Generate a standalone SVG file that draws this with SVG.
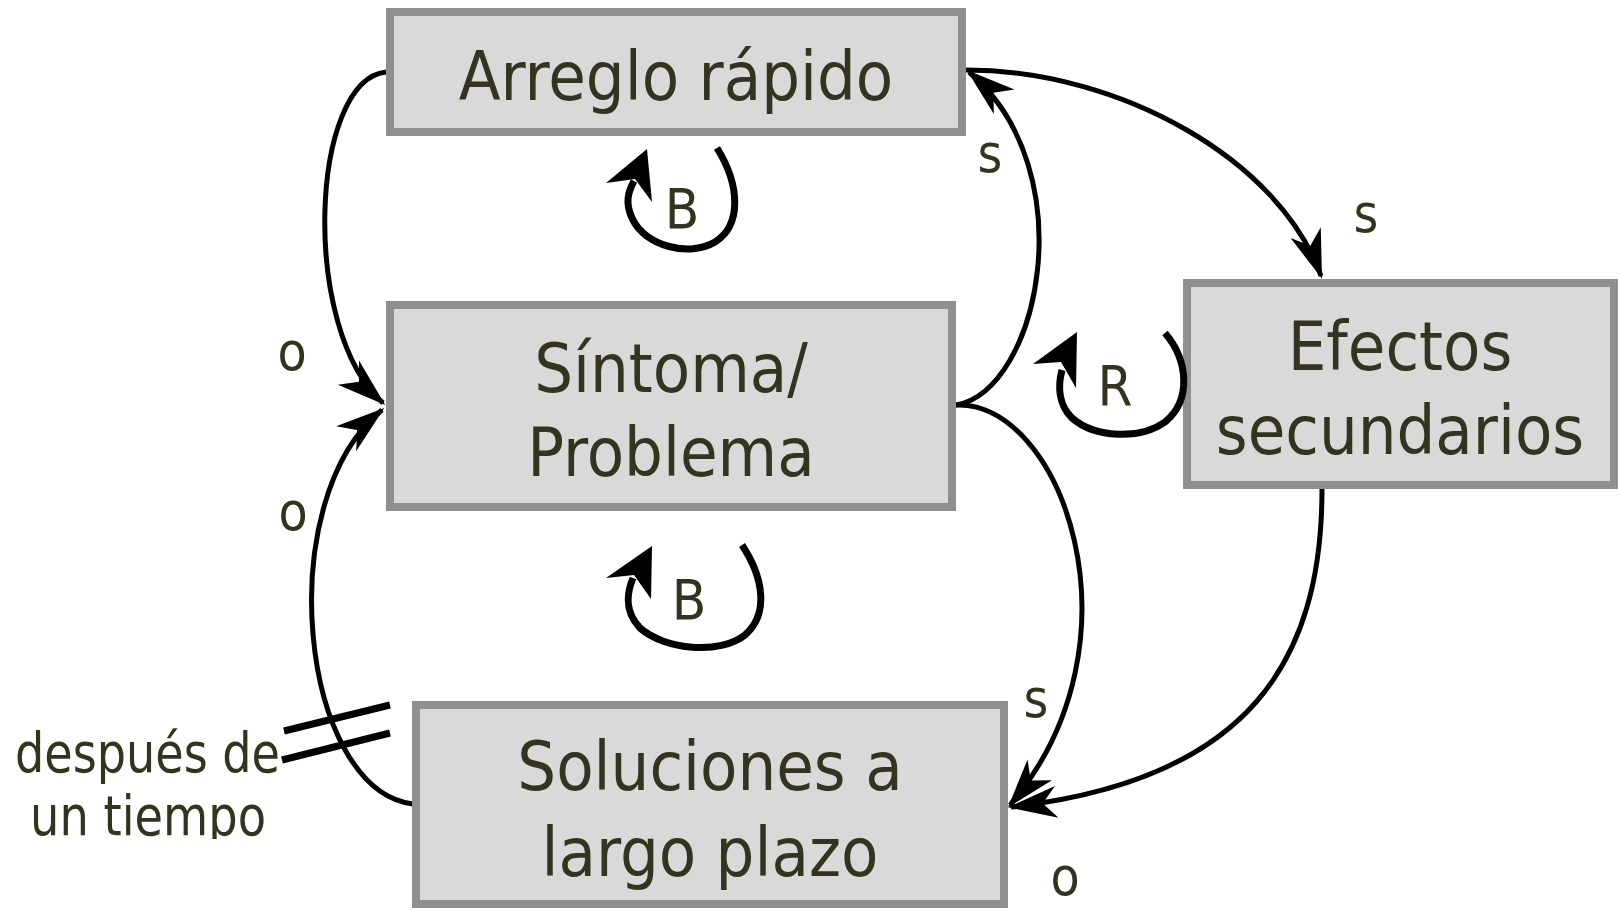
<svg xmlns="http://www.w3.org/2000/svg" width="1620" height="910" viewBox="0 0 1620 910">
  <style>
    .box { fill: #d9d9d9; stroke: #8f8f8f; stroke-width: 8; }
    .lbl { font-family: "DejaVu Sans Condensed", "DejaVu Sans", sans-serif; font-stretch: condensed; fill: #33331f; }
    .big { font-size: 68px; text-anchor: middle; }
    .sm { font-size: 53px; text-anchor: middle; }
    .loopl { font-size: 56px; text-anchor: middle; }
    .note { font-size: 55px; }
    .conn { fill: none; stroke: #000; stroke-width: 5; }
    .loop { fill: none; stroke: #000; stroke-width: 7; stroke-linecap: butt; }
    .hash { stroke: #000; stroke-width: 7; }
  </style>
  <defs>
    <marker id="ah" markerUnits="userSpaceOnUse" markerWidth="70" markerHeight="50" viewBox="-55 -25 70 50" refX="0" refY="0" orient="auto">
      <path d="M3,0 L-46,-16 L-32,0 L-46,16 Z" fill="#000"/>
    </marker>
    <clipPath id="clipNote">
      <rect x="0" y="600" width="420" height="239"/>
    </clipPath>
  </defs>
  <rect width="1620" height="910" fill="#fff"/>

  <g id="connectors">
    <!-- Arreglo -> Sintoma (o) -->
    <path class="conn" d="M386 72 C310 80, 300 330, 383 403" marker-end="url(#ah)"/>
    <!-- Soluciones -> Sintoma (o), with delay -->
    <path class="conn" d="M413 804 C300 790, 270 500, 382 410" marker-end="url(#ah)"/>
    <!-- Sintoma -> Arreglo (s) -->
    <path class="conn" d="M956 405 C1040 390, 1085 170, 969 72" marker-end="url(#ah)"/>
    <!-- Arreglo -> Efectos (s) -->
    <path class="conn" d="M966 70 C1120 70, 1280 160, 1321 276" marker-end="url(#ah)"/>
    <!-- Sintoma -> Soluciones (s) -->
    <path class="conn" d="M956 405 C1060 400, 1150 640, 1010 805" marker-end="url(#ah)"/>
    <!-- Efectos -> Soluciones (o) -->
    <path class="conn" d="M1322 489 C1322 660, 1250 780, 1011 807" marker-end="url(#ah)"/>
    <!-- delay marks -->
    <line class="hash" x1="284" y1="731" x2="390" y2="705"/>
    <line class="hash" x1="282" y1="760" x2="390" y2="733"/>
  </g>

  <g id="node-arreglo">
    <rect class="box" x="390" y="12" width="572" height="120"/>
    <text class="lbl big" x="676" y="100">Arreglo rápido</text>
  </g>
  <g id="node-sintoma">
    <rect class="box" x="390" y="305" width="562" height="202"/>
    <text class="lbl big" x="671" y="392">Síntoma/</text>
    <text class="lbl big" x="671" y="476">Problema</text>
  </g>
  <g id="node-soluciones">
    <rect class="box" x="416" y="705" width="588" height="199"/>
    <text class="lbl big" x="710" y="790">Soluciones a</text>
    <text class="lbl big" x="710" y="876">largo plazo</text>
  </g>
  <g id="node-efectos">
    <rect class="box" x="1187" y="283" width="427" height="202"/>
    <text class="lbl big" x="1400" y="370">Efectos</text>
    <text class="lbl big" x="1400" y="454">secundarios</text>
  </g>

  <g id="loop-b-upper">
    <path class="loop" d="M717 148 C740 185, 742 225, 715 242 C690 257, 645 247, 632 218 C625 203, 628 192, 634 181"/>
    <polygon points="647,149 606,183 635,179 652,202" fill="#000"/>
    <text class="lbl loopl" x="682" y="228">B</text>
  </g>
  <g id="loop-b-lower">
    <path class="loop" d="M742 545 C765 580, 768 615, 745 635 C720 655, 665 650, 640 628 C625 612, 626 595, 633 578"/>
    <polygon points="652,546 606,578 634,575 651,599" fill="#000"/>
    <text class="lbl loopl" x="689" y="619">B</text>
  </g>
  <g id="loop-r">
    <path class="loop" d="M1165 333 C1188 360, 1192 400, 1165 422 C1140 440, 1095 438, 1072 418 C1058 404, 1058 385, 1062 370"/>
    <polygon points="1077,332 1033,364 1061,362 1076,388" fill="#000"/>
    <text class="lbl loopl" x="1115" y="405">R</text>
  </g>

  <g id="polarity-labels">
    <text class="lbl sm" x="990" y="172">s</text>
    <text class="lbl sm" x="1366" y="232">s</text>
    <text class="lbl sm" x="292" y="370">o</text>
    <text class="lbl sm" x="293" y="530">o</text>
    <text class="lbl sm" x="1036" y="717">s</text>
    <text class="lbl sm" x="1065" y="895">o</text>
  </g>

  <g id="delay-note" clip-path="url(#clipNote)">
    <text class="lbl note" x="15" y="772" textLength="265" lengthAdjust="spacingAndGlyphs">después de</text>
    <text class="lbl note" x="30" y="835" textLength="236" lengthAdjust="spacingAndGlyphs">un tiempo</text>
  </g>
</svg>
